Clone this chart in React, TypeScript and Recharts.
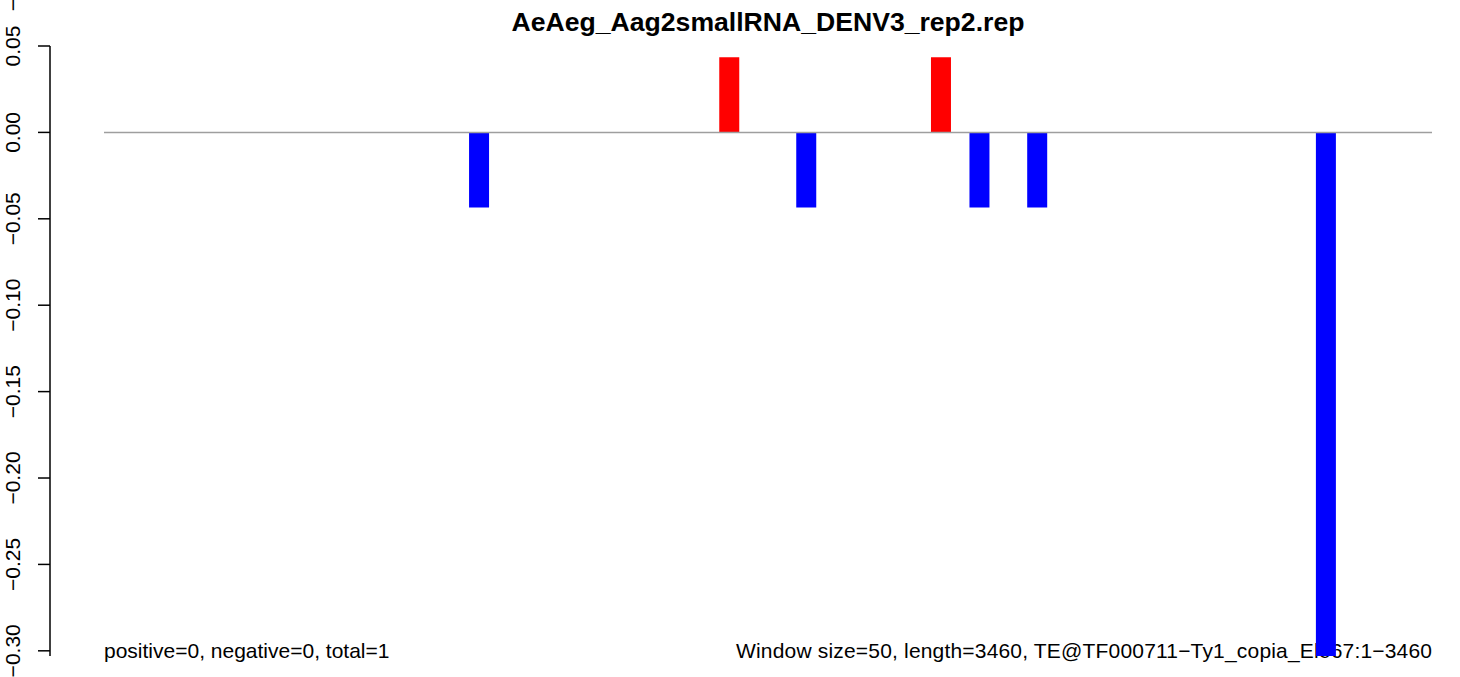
import { BarChart, Bar, XAxis, YAxis, ReferenceLine, Cell } from 'recharts'

const WINDOW_SIZE = 50
const N_WINDOWS = 69
// window start (bp) and normalised density for each non-empty window
const windowStarts = [950, 1600, 1800, 2150, 2250, 2400, 3150]
const densities = [-0.0435, 0.0435, -0.0435, 0.0435, -0.0435, -0.0435, -0.303]
const yTicks = [0.05, 0, -0.05, -0.1, -0.15, -0.2, -0.25, -0.3]

const TITLE = 'AeAeg_Aag2smallRNA_DENV3_rep2.rep'
const COUNTS_LABEL = 'positive=0, negative=0, total=1'
const INFO_LABEL = 'Window size=50, length=3460, TE@TF000711−Ty1_copia_Ele67:1−3460'

const FONT = '"Liberation Sans", Arial, Helvetica, sans-serif'

const data = windowStarts.map((s, i) => ({ mid: s + WINDOW_SIZE / 2, value: densities[i] }))

function YTick({ x, y, payload }: any) {
  const label = Number(payload.value).toFixed(2).replace('-', '−')
  return (
    <text x={x} y={y} transform={`rotate(-90, ${x}, ${y})`} textAnchor="middle" fontSize={21} fontFamily={FONT} fill="#000">
      {label}
    </text>
  )
}

export default function App() {
  return (
    <div style={{ position: 'absolute', left: 0, top: 0, width: 1460, height: 677, background: '#fff', overflow: 'hidden' }}>
      {/* text layer sits under the bars, like in the R output */}
      <svg width={1460} height={677} style={{ position: 'absolute', left: 0, top: 0 }}>
        <text x={768} y={31} textAnchor="middle" fontSize={26.6} fontWeight="bold" fontFamily={FONT} fill="#000">{TITLE}</text>
        <text x={104} y={658} fontSize={21} fontFamily={FONT} fill="#000">{COUNTS_LABEL}</text>
        <text x={1432} y={658} textAnchor="end" fontSize={21} fontFamily={FONT} fill="#000" textLength={696} lengthAdjust="spacing">{INFO_LABEL}</text>
        <text x={20} y={5} transform="rotate(-90, 20, 5)" textAnchor="middle" fontSize={21} fontFamily={FONT} fill="#000">−</text>
      </svg>
      <div style={{ position: 'absolute', left: 0, top: 0 }}>
        <BarChart width={1460} height={677} data={data} margin={{ top: 46, right: 28, bottom: 21, left: 0 }}>
          <XAxis type="number" dataKey="mid" domain={[0, N_WINDOWS * WINDOW_SIZE]} padding={{ left: 54, right: 0 }} hide />
          <YAxis
            type="number"
            domain={[(min: number) => min, 0.05]}
            ticks={yTicks}
            interval={0}
            width={50}
            tickSize={12}
            tickMargin={18}
            axisLine={{ stroke: '#000', strokeWidth: 1.5 }}
            tickLine={{ stroke: '#000', strokeWidth: 1.5 }}
            tick={<YTick />}
          />
          <ReferenceLine segment={[{ x: 0, y: 0 }, { x: N_WINDOWS * WINDOW_SIZE, y: 0 }]} stroke="#9e9e9e" strokeWidth={1.5} />
          <Bar dataKey="value" barSize={20} isAnimationActive={false}>
            {data.map((d, i) => <Cell key={i} fill={d.value > 0 ? '#ff0000' : '#0000ff'} />)}
          </Bar>
        </BarChart>
      </div>
    </div>
  )
}
